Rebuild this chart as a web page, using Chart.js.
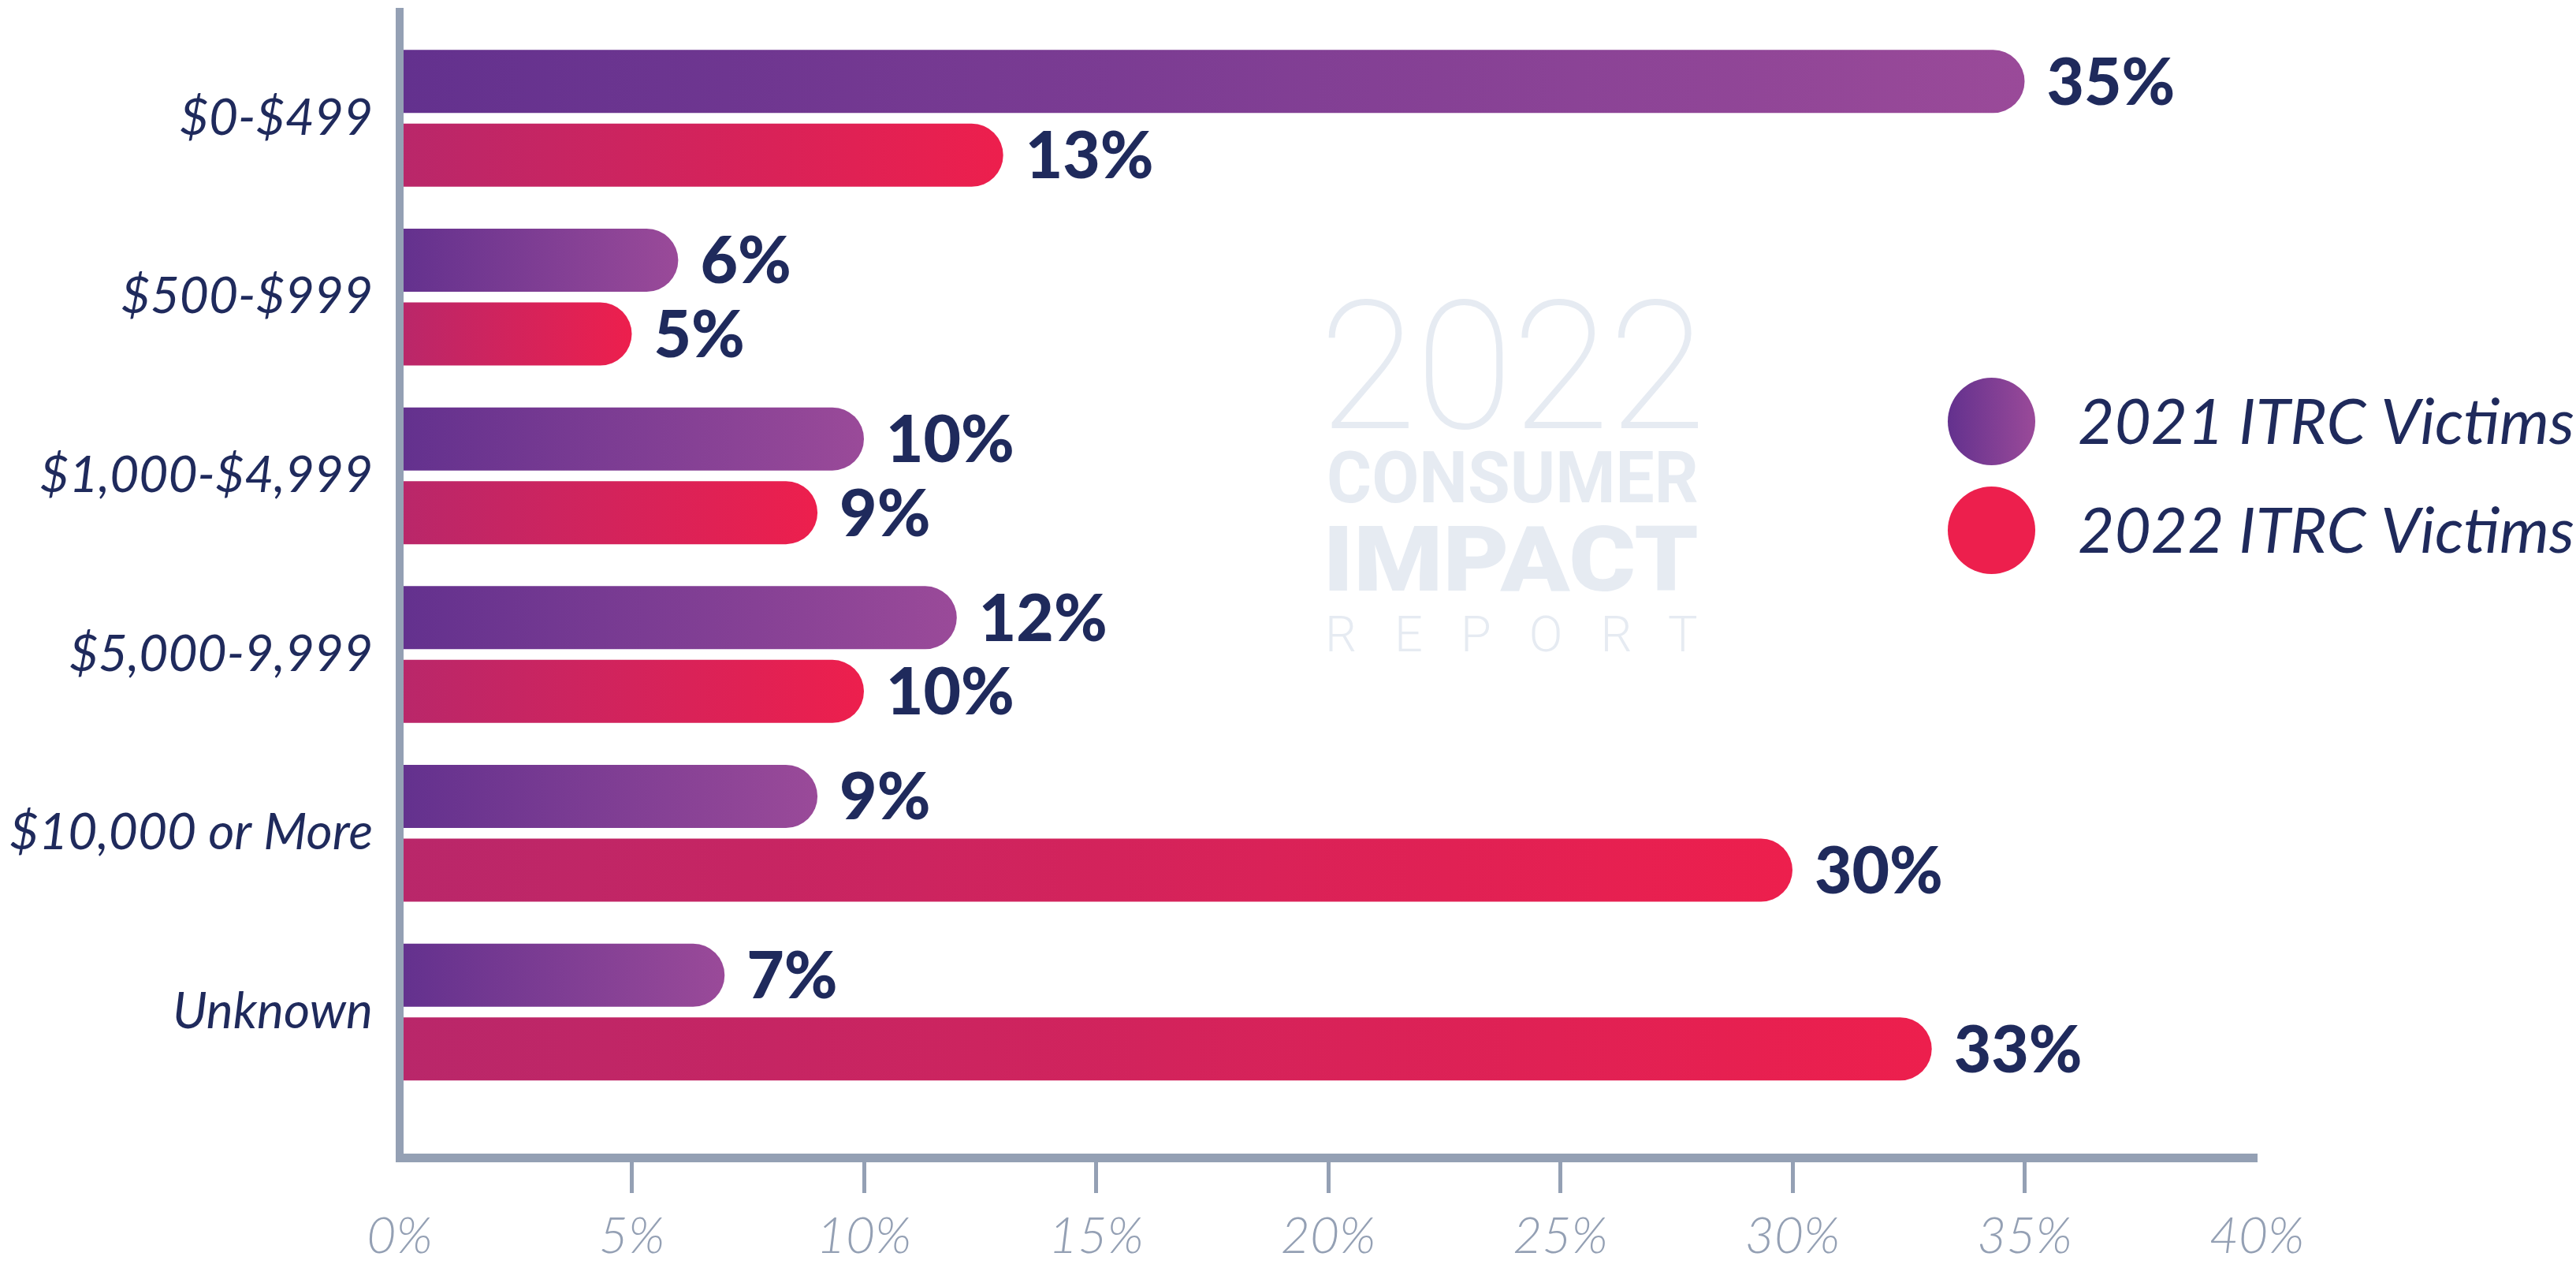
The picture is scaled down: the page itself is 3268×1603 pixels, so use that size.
<!DOCTYPE html>
<html>
<head>
<meta charset="utf-8">
<script src="https://cdn.jsdelivr.net/npm/chart.js@4.4.1/dist/chart.umd.min.js"></script>
<style>
  html, body { margin: 0; padding: 0; background: #ffffff; }
  canvas { display: block; }
</style>
</head>
<body>
<canvas id="chart" width="3268" height="1603"></canvas>
<script>
// ---------------- DATA ----------------
const categories = ['$0-$499', '$500-$999', '$1,000-$4,999', '$5,000-9,999', '$10,000 or More', 'Unknown'];
const victims2021 = [35, 6, 10, 12, 9, 7];
const victims2022 = [13, 5, 9, 10, 30, 33];
const seriesLabels = ['2021 ITRC Victims', '2022 ITRC Victims'];
const xAxisMin = 0;
const xAxisMax = 40;
const xAxisStep = 5;
const watermarkLines = ['2022', 'CONSUMER', 'IMPACT', 'REPORT'];

// ---------------- STYLE ----------------
const NAVY = '#1f2a5c';
const AXIS = '#94a0b4';
const WATERMARK = '#e6ebf2';
const PURPLE = ['#63318e', '#9a4a99'];
const RED = ['#b9276a', '#ed1f4d'];

// category band placement (layout constants)
const CAT_START = -0.5955;
const CAT_RANGE = 6.4094;

function barGradient(colors) {
  return (c) => {
    const chart = c.chart;
    const xs = chart.scales && chart.scales.x;
    if (!chart.chartArea || !xs || c.raw === undefined || c.raw === null) return colors[1];
    const x0 = xs.getPixelForValue(0);
    const x1 = xs.getPixelForValue(c.raw);
    if (!isFinite(x0) || !isFinite(x1) || x1 <= x0) return colors[1];
    const g = chart.ctx.createLinearGradient(x0, 0, x1, 0);
    g.addColorStop(0, colors[0]);
    g.addColorStop(1, colors[1]);
    return g;
  };
}

// value labels at bar ends
const valueLabelPlugin = {
  id: 'valueLabels',
  afterDatasetsDraw(chart) {
    const ctx = chart.ctx;
    const size = 82;
    ctx.save();
    ctx.font = '900 ' + size + 'px Lato';
    ctx.fillStyle = NAVY;
    ctx.textAlign = 'left';
    ctx.textBaseline = 'alphabetic';
    chart.data.datasets.forEach((ds, di) => {
      const meta = chart.getDatasetMeta(di);
      meta.data.forEach((bar, i) => {
        ctx.fillText(ds.data[i] + '%', bar.x + 28, bar.y + size * 0.358);
      });
    });
    ctx.restore();
  }
};

// watermark
function drawFitted(ctx, text, font, left, right, baseline, spaced, strokeW) {
  ctx.save();
  ctx.font = font;
  ctx.textAlign = 'left';
  ctx.textBaseline = 'alphabetic';
  const target = right - left;
  if (spaced && 'letterSpacing' in ctx) {
    ctx.letterSpacing = '0px';
    const m0 = ctx.measureText(text);
    const ink0 = m0.actualBoundingBoxLeft + m0.actualBoundingBoxRight;
    const sp = (target - ink0) / (text.length - 1);
    ctx.letterSpacing = sp + 'px';
    ctx.fillText(text, left + m0.actualBoundingBoxLeft, baseline);
    ctx.letterSpacing = '0px';
  } else {
    const m = ctx.measureText(text);
    const ink = m.actualBoundingBoxLeft + m.actualBoundingBoxRight;
    const sx = target / ink;
    ctx.translate(left + m.actualBoundingBoxLeft * sx, baseline);
    ctx.scale(sx, 1);
    ctx.fillText(text, 0, 0);
    if (strokeW) {
      ctx.lineWidth = strokeW;
      ctx.strokeStyle = ctx.fillStyle;
      ctx.strokeText(text, 0, 0);
    }
  }
  ctx.restore();
}

const watermarkPlugin = {
  id: 'watermark',
  beforeDatasetsDraw(chart) {
    const ctx = chart.ctx;
    ctx.save();
    ctx.fillStyle = WATERMARK;
    drawFitted(ctx, watermarkLines[0], '100 224px Roboto', 1686, 2153, 542, false, 2);
    drawFitted(ctx, watermarkLines[1], '700 90px Roboto', 1686, 2153, 637, false, 0);
    drawFitted(ctx, watermarkLines[2], '900 115px Roboto', 1686, 2153, 749, false, 0);
    drawFitted(ctx, watermarkLines[3], '300 63px Roboto', 1686, 2153, 826, true, 0);
    ctx.restore();
  }
};

// legend
const legendPlugin = {
  id: 'customLegend',
  afterDraw(chart) {
    const ctx = chart.ctx;
    const cx = 2526.5, r = 55.5, rows = [534.5, 672.5], textX = 2636, size = 80;
    const fills = [PURPLE, [RED[1], RED[1]]];
    ctx.save();
    chart.data.datasets.forEach((ds, i) => {
      const cy = rows[i];
      const g = ctx.createLinearGradient(cx - r, 0, cx + r, 0);
      g.addColorStop(0, fills[i][0]);
      g.addColorStop(1, fills[i][1]);
      ctx.beginPath();
      ctx.arc(cx, cy, r, 0, Math.PI * 2);
      ctx.fillStyle = g;
      ctx.fill();
      ctx.font = 'italic 400 ' + size + 'px Lato';
      ctx.fillStyle = NAVY;
      ctx.textAlign = 'left';
      ctx.textBaseline = 'alphabetic';
      ctx.fillText(ds.label, textX, cy + size * 0.36);
    });
    ctx.restore();
  }
};

const chart = new Chart(document.getElementById('chart'), {
  type: 'bar',
  data: {
    labels: categories,
    datasets: [
      {
        label: seriesLabels[0],
        data: victims2021,
        backgroundColor: barGradient(PURPLE),
        borderRadius: 40,
        borderSkipped: 'start',
        categoryPercentage: 0.8249,
        barPercentage: 0.8556
      },
      {
        label: seriesLabels[1],
        data: victims2022,
        backgroundColor: barGradient(RED),
        borderRadius: 40,
        borderSkipped: 'start',
        categoryPercentage: 0.8249,
        barPercentage: 0.8556
      }
    ]
  },
  options: {
    indexAxis: 'y',
    responsive: false,
    animation: false,
    devicePixelRatio: 1,
    layout: { padding: { top: 15, right: 405, bottom: 0, left: 0 } },
    plugins: {
      legend: { display: false },
      tooltip: { enabled: false }
    },
    scales: {
      x: {
        type: 'linear',
        position: 'bottom',
        min: xAxisMin,
        max: xAxisMax,
        ticks: {
          stepSize: xAxisStep,
          callback: (v) => v + '%',
          color: AXIS,
          font: { family: 'Lato', style: 'italic', weight: '300', size: 64, lineHeight: 1 },
          padding: 23,
          maxRotation: 0,
          autoSkip: false
        },
        grid: {
          display: true,
          drawOnChartArea: false,
          drawTicks: true,
          tickLength: 45,
          tickWidth: 5,
          tickColor: (c) => (c.tick && (c.tick.value === xAxisMin || c.tick.value === xAxisMax)) ? 'rgba(0,0,0,0)' : AXIS,
          color: AXIS,
          lineWidth: 1
        },
        border: { display: true, color: AXIS, width: 11 },
        afterFit: (s) => { s.height = 135; }
      },
      y: {
        type: 'category',
        position: 'left',
        offset: true,
        afterBuildTicks: (s) => { s._startValue = CAT_START; s._valueRange = CAT_RANGE; },
        afterFit: (s) => { s.width = 507; s.paddingTop = 0; s.paddingBottom = 0; },
        ticks: {
          color: NAVY,
          font: { family: 'Lato', style: 'italic', weight: '400', size: 64 },
          padding: 34,
          autoSkip: false
        },
        grid: { display: true, drawOnChartArea: false, drawTicks: false, lineWidth: 1 },
        border: { display: true, color: AXIS, width: 10, z: 1 }
      }
    }
  },
  plugins: [watermarkPlugin, valueLabelPlugin, legendPlugin]
});
</script>
</body>
</html>
